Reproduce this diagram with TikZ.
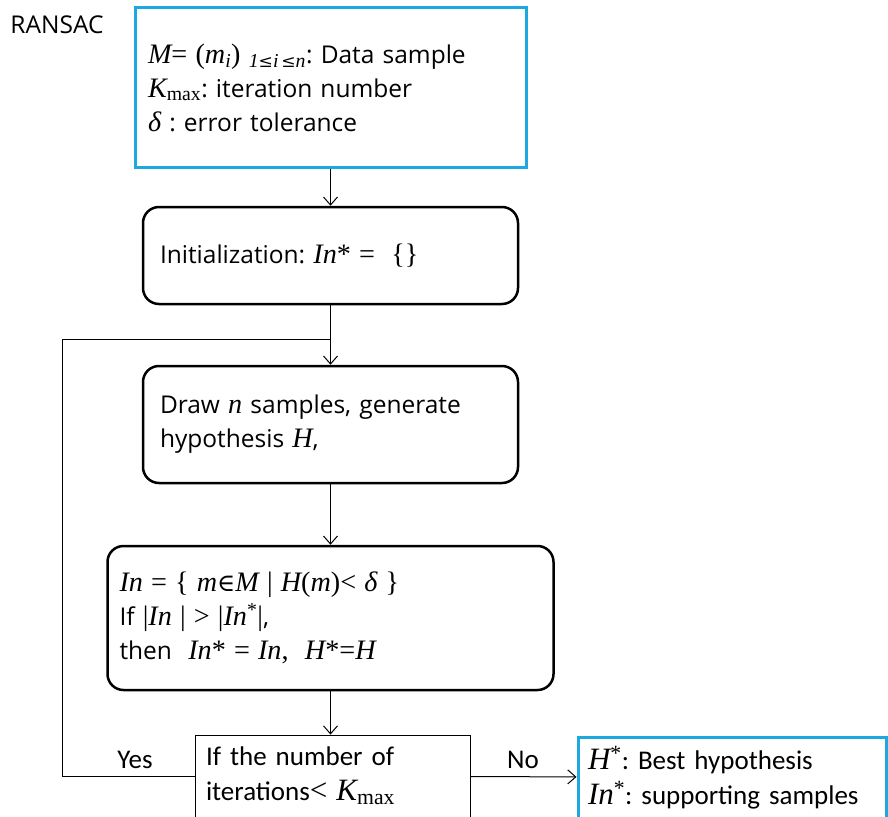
\documentclass[tikz,border=0pt]{standalone}
\usepackage{fontspec}
\setmainfont{Open Sans}
\newfontfamily\narrowfont{Carlito}
\newfontfamily\timesfont[Scale=1.15]{Liberation Serif}
\newfontfamily\symbfont[Scale=1.0]{DejaVu Serif}
\usetikzlibrary{arrows.meta}
\definecolor{ransacblue}{RGB}{30,168,224}
\frenchspacing

% variables and symbols in a Times face
\newcommand{\tv}[1]{{\timesfont\itshape #1}}
\newcommand{\tx}[1]{{\timesfont #1}}
\newcommand{\sy}[1]{{\symbfont #1}}

\tikzset{
	stepbox/.style={draw=black, line width=2.5pt, rounded corners=16pt, align=left},
	iobox/.style={draw=ransacblue, line width=3pt, align=left},
	testbox/.style={draw=black, line width=0.8pt, align=left},
	flow/.style={-{Straight Barb[length=8pt,width=14pt]}, line width=1pt},
	narrowtext/.style={font=\narrowfont\fontsize{27}{35}\selectfont},
}

\begin{document}
\begin{tikzpicture}[x=1pt, y=-1pt, font=\fontsize{24.5}{34}\selectfont]
	\useasboundingbox (0,0) rectangle (888,816);

	% title
	\node (title) at (57,25) {RANSAC};

	% input
	\node[iobox, minimum width=391pt, minimum height=159pt, text width=365pt, inner xsep=13pt]
		(input) at (330.5,87.5)
		{\tv{M}\tx{= (}\tv{m}\textsubscript{\tv{i}}\tx{)} \textsubscript{\tv{1}\sy{≤}\tv{i}\,\sy{≤}\tv{n}}: Data sample\\
		 \tv{K}\textsubscript{\tx{max}}: iteration number\\
		 \tv{δ} : error tolerance};

	% steps
	\node[stepbox, minimum width=375pt, minimum height=97pt, text width=341pt, inner xsep=17pt]
		(init) at (330.5,255.5)
		{Initialization: \tv{In}\tx{* =\ \ \{\}}};
	\node[stepbox, minimum width=375pt, minimum height=117pt, text width=341pt, inner xsep=17pt]
		(sample) at (330.5,424.5)
		{Draw \tv{n} samples, generate\\ hypothesis\ \tv{H},};
	\node[stepbox, minimum width=446pt, minimum height=144pt, text width=422pt, inner xsep=12pt]
		(update) at (330.5,618)
		{\tv{In}\tx{ = \{ }\tv{m}\sy{∈}\tv{M}\tx{ | }\tv{H}\tx{(}\tv{m}\tx{)< }\tv{δ}\tx{ \}}\\
		 If \tx{|}\tv{In}\tx{ | > |}\tv{In}\textsuperscript{\tx{*}}\tx{|},\\
		 then\ \ \tv{In}\tx{* = }\tv{In}\tx{,\ \ }\tv{H}\tx{*=}\tv{H}};

	% test and output
	\node[testbox, narrowtext, minimum width=275pt, minimum height=82pt, text width=253pt, inner xsep=11pt]
		(check) at (332.5,776)
		{If the number of\\ iterations\tx{<}\ \tv{K}\textsubscript{\tx{max}}};
	\node[iobox, narrowtext, minimum width=308pt, minimum height=81pt, text width=288pt, inner xsep=10pt]
		(result) at (732,777.5)
		{\tv{H}\textsuperscript{\tx{*}}: Best hypothesis\\ \tv{In}\textsuperscript{\tx{*}}: supporting samples};

	% connectors
	\coordinate (loop) at (62,339);
	\draw[flow] (input) -- (init);
	\draw[flow] (init) -- (sample);
	\draw[flow] (sample) -- (update);
	\draw[flow] (update.south) -- (update.south |- check.north);
	\draw[line width=1pt] (check.west) -| (loop) -- (init.south |- loop);
	\draw[flow] (check) -- (result);

	\node[narrowtext] (yes) at (135,760) {Yes};
	\node[narrowtext] (no) at (523,760) {No};
\end{tikzpicture}
\end{document}
